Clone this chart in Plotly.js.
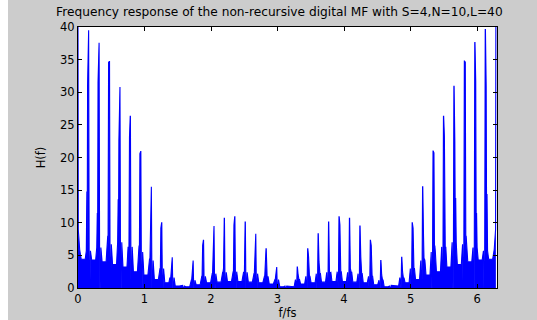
<!DOCTYPE html>
<html>
<head>
<meta charset="utf-8">
<script src="https://cdn.plot.ly/plotly-3.0.1.min.js"></script>
<style>
  html, body { margin: 0; padding: 0; background: #ffffff; }
  #chart { position: absolute; left: 8px; top: 0; width: 529px; height: 320px; }
</style>
</head>
<body>
<div id="chart"></div>
<script>
// Grating lobes of the matched filter response, one per frequency bin
const freq = [0.157, 0.314, 0.471, 0.628, 0.785, 0.942, 1.100, 1.257, 1.414, 1.571,
              1.728, 1.885, 2.042, 2.199, 2.356, 2.513, 2.670, 2.827, 2.985, 3.142,
              3.299, 3.456, 3.613, 3.770, 3.927, 4.084, 4.241, 4.398, 4.555, 4.712,
              4.869, 5.027, 5.184, 5.341, 5.498, 5.655, 5.812, 5.969, 6.126];

// Lobe peak |H(f)|
const peakMain = [39.5, 37.6, 34.7, 30.8, 26.3, 20.9, 15.5, 10.0, 4.7, 0.4,
                  4.2, 7.3, 9.5, 10.7, 10.9, 10.1, 8.3, 6.0, 3.2, 0.3,
                  3.2, 6.0, 8.3, 10.1, 10.9, 10.7, 9.5, 7.3, 4.2, 0.4,
                  4.7, 10.0, 15.5, 21.0, 26.3, 30.9, 34.8, 37.6, 39.6];

// Neighbouring sample on each lobe
const peakSide = [31.2, 31.5, 34.6, 22.6, 23.1, 20.6, 7.8, 9.2, 2.5, 0.3,
                  2.0, 6.5, 4.8, 3.0, 9.7, 2.3, 4.0, 4.8, 2.0, 0.3,
                  2.0, 4.8, 4.0, 2.3, 9.7, 3.0, 4.8, 6.5, 2.0, 0.3,
                  2.5, 9.2, 8.0, 20.7, 23.2, 22.4, 34.6, 31.7, 31.0];

// Lower flank sample on each lobe
const peakLow = [14.8, 11.5, 8.0, 13.6, 6.0, 6.5, 4.5, 3.0, 1.5, 0.3,
                 1.2, 1.8, 2.2, 2.4, 2.5, 2.4, 2.2, 1.8, 1.3, 0.3,
                 1.3, 1.8, 2.2, 2.4, 2.5, 2.4, 2.2, 1.8, 1.2, 0.3,
                 1.5, 3.0, 4.5, 6.5, 6.0, 13.8, 8.0, 11.5, 14.4];

// Sidelobe level right beside each lobe
const skirt = [5.7, 6.2, 6.7, 7.0, 6.3, 5.5, 4.2, 3.0, 1.6, 0.3,
               1.2, 1.8, 2.2, 2.4, 2.5, 2.4, 2.2, 1.8, 1.3, 0.3,
               1.3, 1.8, 2.2, 2.4, 2.5, 2.4, 2.2, 1.8, 1.2, 0.3,
               1.6, 3.0, 4.2, 5.5, 6.3, 7.0, 6.7, 6.2, 5.7];

// Sidelobe floor midway between lobes (40 gaps incl. both ends)
const valley = [4.4, 4.3, 4.0, 3.6, 3.2, 2.5, 2.0, 1.3, 0.8, 0.3,
                0.2, 0.5, 0.8, 0.9, 1.0, 1.0, 0.9, 0.8, 0.6, 0.2,
                0.2, 0.6, 0.8, 0.9, 1.0, 1.0, 0.9, 0.8, 0.5, 0.2,
                0.3, 0.8, 1.3, 2.0, 2.5, 3.2, 3.6, 4.0, 4.3, 4.4];

// DC ends of the response
const startF = [0, 0.004, 0.025];
const startH = [40, 9.0, 5.9];
const endF = [6.258, 6.279, 6.283];
const endH = [5.9, 9.0, 40];

const xTicks = [0, 1, 2, 3, 4, 5, 6];
const yTicks = [0, 5, 10, 15, 20, 25, 30, 35, 40];

function buildResponse() {
  const xs = [], ys = [];
  const add = (x, y) => { xs.push(x); ys.push(y); };
  startF.forEach((f, i) => add(f, startH[i]));
  let prev = 0;
  for (let k = 0; k <= freq.length; k++) {
    const next = k < freq.length ? freq[k] : endF[endF.length - 1];
    const mid = (prev + next) / 2;
    add(mid - 0.03, valley[k]);
    add(mid + 0.03, valley[k]);
    if (k === freq.length) break;
    const x0 = freq[k];
    // each lobe: flank sample, neighbour sample, peak, then a null beside it
    let lobe = [[-0.032, skirt[k]], [-0.024, peakLow[k]], [-0.019, skirt[k]],
                [-0.013, peakSide[k]], [-0.011, peakSide[k]], [0, peakMain[k]],
                [0.003, peakMain[k]], [0.012, 0], [0.022, 0], [0.03, skirt[k]]];
    if (x0 > Math.PI) lobe = lobe.map(([o, v]) => [-o, v]).reverse();
    lobe.forEach(([o, v]) => add(x0 + o, v));
    prev = x0;
  }
  endF.forEach((f, i) => add(f, endH[i]));
  return { xs, ys };
}

const resp = buildResponse();

const font = { family: 'DejaVu Sans, Arial, sans-serif', size: 11.5, color: '#000000' };

Plotly.newPlot('chart', [{
  type: 'scatter',
  mode: 'lines',
  x: resp.xs,
  y: resp.ys,
  fill: 'tozeroy',
  fillcolor: '#0000ff',
  line: { color: '#0000ff', width: 1.1 },
  hoverinfo: 'skip'
}], {
  width: 529,
  height: 320,
  margin: { l: 70, r: 40, t: 27, b: 32 },
  paper_bgcolor: '#cccccc',
  plot_bgcolor: '#ffffff',
  showlegend: false,
  font: font,
  title: {
    text: 'Frequency response of the non-recursive digital MF with S=4,N=10,L=40',
    font: { family: font.family, size: 12.2, color: '#000000' },
    xref: 'container', x: 0.513, xanchor: 'center',
    yref: 'container', y: 0.962, yanchor: 'middle'
  },
  xaxis: {
    range: [0, 6.3],
    tickvals: xTicks,
    ticktext: xTicks.map(String),
    ticks: 'inside', ticklen: 4, tickcolor: '#000000',
    showline: true, linecolor: '#000000', linewidth: 1, mirror: 'ticks',
    showgrid: false, zeroline: false,
    tickfont: font,
    title: { text: 'f/fs', font: font, standoff: 4 }
  },
  yaxis: {
    range: [0, 40],
    tickvals: yTicks,
    ticktext: yTicks.map(String),
    ticks: 'inside', ticklen: 4, tickcolor: '#000000',
    showline: true, linecolor: '#000000', linewidth: 1, mirror: 'ticks',
    showgrid: false, zeroline: false,
    tickfont: font,
    title: { text: 'H(f)', font: font, standoff: 12 }
  }
}, { staticPlot: true, displayModeBar: false });
</script>
</body>
</html>
